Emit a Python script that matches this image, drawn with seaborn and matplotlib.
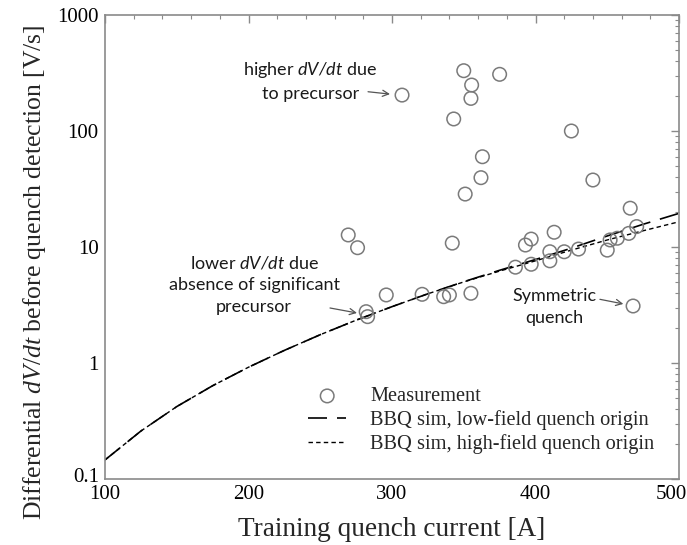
import matplotlib
matplotlib.use("Agg")
import matplotlib.pyplot as plt
import matplotlib.ticker as mticker
import matplotlib.transforms as mtransforms
import seaborn as sns
import pandas as pd

# ---- data ----
meas_current = [307, 350, 375, 355.5, 355, 343, 363, 362, 351, 269.5, 276, 342,
                466, 413, 397, 393, 470.5, 465, 457, 452, 450, 430, 420, 410,
                410, 397, 386, 296, 321, 336, 340, 355, 282, 283, 468, 425, 440]
meas_dvdt = [204, 331, 308, 249, 191, 127, 60, 39.6, 28.6, 12.7, 9.86, 10.8,
             21.6, 13.4, 11.7, 10.4, 15.0, 13.1, 11.9, 11.5, 9.4, 9.6, 9.1, 9.1,
             7.6, 7.1, 6.7, 3.86, 3.91, 3.73, 3.86, 3.99, 2.77, 2.51, 3.10, 100, 37.8]

sim_current = [100, 125, 150, 175, 200, 225, 250, 275, 300, 325, 350, 375, 400,
               425, 450, 475, 500]
sim_low_field = [0.146, 0.259, 0.421, 0.637, 0.92, 1.285, 1.754, 2.34, 3.06,
                 3.95, 5.02, 6.3, 7.8, 9.77, 12.45, 15.7, 19.5]
sim_high_field = [0.146, 0.259, 0.421, 0.637, 0.92, 1.285, 1.754, 2.34, 3.06,
                  3.95, 5.0, 6.2, 7.6, 9.4, 11.5, 13.8, 16.5]

x_ticks = [100, 200, 300, 400, 500]
y_ticks = [0.1, 1, 10, 100, 1000]
y_tick_labels = ["0.1", "1", "10", "100", "1000"]

meas_df = pd.DataFrame({"current": meas_current, "dvdt": meas_dvdt})
sim_df = pd.DataFrame({"current": sim_current, "low": sim_low_field,
                       "high": sim_high_field})

# ---- style ----
sns.set_theme(style="white")
plt.rcParams["font.family"] = ["Liberation Serif", "DejaVu Serif"]
plt.rcParams["mathtext.fontset"] = "custom"
plt.rcParams["mathtext.it"] = "Liberation Serif:italic"
plt.rcParams["mathtext.rm"] = "Liberation Serif"
plt.rcParams["mathtext.sf"] = "Lato:italic"

fig = plt.figure(figsize=(6.87, 5.45), dpi=100)
ax = fig.add_axes([105 / 687, 1 - 479 / 545, (679 - 105) / 687, (479 - 15) / 545])

sns.lineplot(data=sim_df, x="current", y="low", ax=ax, color="black", lw=1.2,
             errorbar=None, label="BBQ sim, low-field quench origin")
ax.lines[-1].set_dashes((11.4, 6.0))
sns.lineplot(data=sim_df, x="current", y="high", ax=ax, color="black", lw=1.0,
             errorbar=None, label="BBQ sim, high-field quench origin")
ax.lines[-1].set_dashes((3.2, 2.3))
sns.scatterplot(data=meas_df, x="current", y="dvdt", ax=ax, marker="o",
                s=95, facecolor="none", edgecolor="#7a7a7a", linewidth=1.1,
                label="Measurement", zorder=3)

ax.set_yscale("log")
ax.set_xlim(100, 500)
ax.set_ylim(0.1, 1000)
ax.set_xticks(x_ticks)
ax.xaxis.set_minor_locator(mticker.MultipleLocator(20))
ax.set_yticks(y_ticks)
ax.set_yticklabels(y_tick_labels)
ax.yaxis.set_minor_locator(mticker.LogLocator(base=10, subs=range(2, 10)))
ax.yaxis.set_minor_formatter(mticker.NullFormatter())

ax.tick_params(axis="both", which="both", direction="in", top=True, right=True,
               color="#8a8a8a", labelsize=15, labelcolor="black")
ax.tick_params(which="major", length=6, width=1.0, pad=4.5)
ax.tick_params(which="minor", length=3, width=0.8)
for sp in ax.spines.values():
    sp.set_color("#8a8a8a")
    sp.set_linewidth(1.2)

# nudge corner tick labels so they stay readable
xl = ax.get_xticklabels()
xl[-1].set_transform(xl[-1].get_transform() +
                     mtransforms.ScaledTranslation(-8 / 100, 0, fig.dpi_scale_trans))
yl = ax.get_yticklabels()
yl[0].set_transform(yl[0].get_transform() +
                    mtransforms.ScaledTranslation(0, 4 / 100, fig.dpi_scale_trans))

ax.set_xlabel("Training quench current [A]", fontsize=19.6, labelpad=9.5)
ax.set_ylabel(r"Differential $dV/dt$ before quench detection [V/s]",
              fontsize=18.5)
ax.yaxis.set_label_coords(-0.099, 0.446)

# legend
handles, labels = ax.get_legend_handles_labels()
order = [labels.index("Measurement"),
         labels.index("BBQ sim, low-field quench origin"),
         labels.index("BBQ sim, high-field quench origin")]
leg = ax.legend([handles[i] for i in order], [labels[i] for i in order],
                loc="upper left", bbox_to_anchor=(308 / 687, 1 - 387 / 545),
                bbox_transform=fig.transFigure, frameon=False, fontsize=14.7,
                borderpad=0, borderaxespad=0, handlelength=1.88,
                handletextpad=1.18, labelspacing=0.2)

# annotations
txt_kw = dict(fontsize=13, family="Lato", color="#1a1a1a", ha="center",
              va="center", linespacing=1.45)
arrow_kw = dict(arrowstyle="->", color="#555555", lw=0.9, shrinkA=0, shrinkB=0,
                mutation_scale=11)
ax.text(243, 270, "higher $\\mathsf{dV/dt}$ due\nto precursor", **txt_kw)
ax.annotate("", xy=(298.6, 208), xytext=(283.3, 218), arrowprops=arrow_kw)
ax.text(204, 4.75, "lower $\\mathsf{dV/dt}$ due\nabsence of significant\nprecursor",
        **txt_kw)
ax.annotate("", xy=(275.6, 2.70), xytext=(256.8, 2.98), arrowprops=arrow_kw)
ax.text(413, 3.05, "Symmetric\nquench", **txt_kw)
ax.annotate("", xy=(461.2, 3.23), xytext=(444.9, 3.54), arrowprops=arrow_kw)

fig.savefig("out.png", dpi=100)
